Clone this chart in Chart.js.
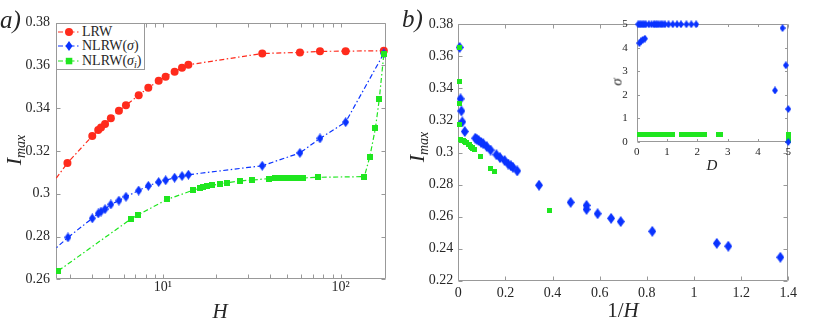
<!DOCTYPE html>
<html>
<head>
<meta charset="utf-8">
<script src="https://cdn.jsdelivr.net/npm/chart.js@4.4.1/dist/chart.umd.min.js"></script>
<style>
  html, body { margin: 0; padding: 0; background: #fff; }
  #wrap { position: relative; width: 830px; height: 320px; overflow: hidden;
          font-family: "Liberation Serif", serif; color: #262626; }
  canvas { position: absolute; top: 0; }
  .t { position: absolute; white-space: nowrap; line-height: 1; }
  .c { transform: translate(-50%, -50%); }
  .r { transform: translate(-50%, -50%) rotate(-90deg); }
  .im { font-size: 22px; font-style: italic; }
  .im sub { font-size: 14px; vertical-align: -4px; line-height: 0; }
  #legend { position: absolute; left: 56px; top: 22.7px; width: 89px; height: 47px;
            box-sizing: border-box; border: 1px solid #999; background: #fff; }
  #legend .row { position: absolute; left: 1px; height: 14px; font-size: 14px; }
  #legend svg { position: absolute; left: 0; top: 2px; }
  #legend span { position: absolute; left: 24px; top: 0; white-space: nowrap; line-height: 14px; }
  #legend sub { font-size: 10px; vertical-align: -3px; line-height: 0; }
</style>
</head>
<body>
<div id="wrap">
  <canvas id="ca" width="400" height="320" style="left:0"></canvas>
  <canvas id="cb" width="430" height="320" style="left:400px"></canvas>
  <canvas id="ci" width="200" height="180" style="left:600px"></canvas>

  <div id="legend">
    <div class="row" style="top:1px">
      <svg width="21" height="10"><line x1="0" y1="5" x2="21" y2="5" stroke="#ff2b1c" stroke-width="1.2" stroke-dasharray="5 2.5 1.5 2.5"/><circle cx="11" cy="5" r="4" fill="#ff2b1c"/></svg>
      <span>LRW</span>
    </div>
    <div class="row" style="top:15.5px">
      <svg width="21" height="10"><line x1="0" y1="5" x2="21" y2="5" stroke="#0a33ff" stroke-width="1.2" stroke-dasharray="5 2.5 1.5 2.5"/><polygon points="11,0 14.5,5 11,10 7.5,5" fill="#0a33ff"/></svg>
      <span>NLRW(<i>σ</i>)</span>
    </div>
    <div class="row" style="top:30.5px">
      <svg width="21" height="10"><line x1="0" y1="5" x2="21" y2="5" stroke="#1fe61f" stroke-width="1.2" stroke-dasharray="5 2.5 1.5 2.5"/><rect x="7.8" y="1.8" width="6.5" height="6.5" fill="#1fe61f"/></svg>
      <span>NLRW(<i>σ<sub>i</sub></i>)</span>
    </div>
  </div>

  <div class="t" style="left:0px;top:7px;font-size:25px;font-style:italic">a)</div>
  <div class="t" style="left:402px;top:6px;font-size:25px;font-style:italic">b)</div>
  <div class="t c" style="left:220px;top:311px;font-size:21px;font-style:italic">H</div>
  <div class="t r im" style="left:14px;top:150px">I<sub>max</sub></div>
  <div class="t c" style="left:623px;top:310px;font-size:21px">1/<i>H</i></div>
  <div class="t r im" style="left:417px;top:147px">I<sub>max</sub></div>
  <div class="t c" style="left:712px;top:165px;font-size:15px;font-style:italic">D</div>
  <div class="t r" style="left:617px;top:82px;font-size:15px;font-style:italic">σ</div>
</div>

<script>
// ---- panel a / b : I_max against H (panel b plots the same runs against 1/H) ----
const hRed = [2.10, 2.90, 4.00, 4.32, 4.48, 4.72, 5.09, 5.65, 6.19, 7.30, 8.27, 9.46,
              10.35, 11.63, 12.8, 13.9, 36.2, 59, 76.5, 106.7, 175];
const iRed = [0.2987, 0.3144, 0.3270, 0.3298, 0.3310, 0.3326, 0.3353, 0.3388, 0.3414, 0.3461, 0.3496, 0.3528,
              0.3547, 0.3571, 0.3589, 0.3603, 0.3656, 0.3661, 0.3666, 0.3667, 0.3669];

const hBlue = [0.732, 0.873, 0.912, 1.215, 1.451, 1.543, 1.692, 1.838, 1.838, 2.098,
               2.92, 4.00, 4.32, 4.48, 4.72, 5.09, 5.65, 6.19, 7.30, 8.27, 9.46,
               10.35, 11.63, 12.8, 13.9, 36.2, 59, 76.5, 106.7, 175];
const iBlue = [0.2346, 0.2415, 0.2433, 0.2508, 0.2569, 0.2589, 0.2618, 0.2645, 0.2670, 0.2689,
               0.2796, 0.2885, 0.2908, 0.2917, 0.2928, 0.2950, 0.2968, 0.2986, 0.3015, 0.3037, 0.3055,
               0.3063, 0.3075, 0.3083, 0.3089, 0.3131, 0.3191, 0.3259, 0.3335, 0.3656];

const hGreen = [2.58, 6.6, 7.26, 10.6, 14.7, 16.2, 16.9, 17.6, 18.9, 20.9, 23.0, 27.1, 31.5,
                39.7, 42.7, 45.5, 48.5, 51.5, 54.5, 58, 61, 74.3, 136, 146, 157, 165, 175];
const iGreen = [0.2640, 0.2882, 0.2902, 0.2974, 0.3016, 0.3025, 0.3030, 0.3034, 0.3039, 0.3047, 0.3052, 0.3060, 0.3064,
                0.3071, 0.3072, 0.3072, 0.3072, 0.3073, 0.3073, 0.3073, 0.3074, 0.3077, 0.3080, 0.3174, 0.3307, 0.3443, 0.3653];

// ---- inset : sigma against D ----
const dBlue = [0.09, 0.14, 0.20, 0.27,
               0.05, 0.10, 0.15, 0.20, 0.25, 0.30, 0.40, 0.49, 0.57, 0.62, 0.67, 0.73, 0.80, 0.86, 0.93,
               1.05, 1.19, 1.33, 1.46, 1.64, 1.80, 1.96,
               4.56, 4.81, 4.92, 5.00, 5.00];
const sBlue = [4.20, 4.28, 4.34, 4.39,
               5, 5, 5, 5, 5, 5, 5, 5, 5, 5, 5, 5, 5, 5, 5,
               5, 5, 5, 5, 5, 5, 5,
               2.19, 4.84, 3.26, 1.40, 0.0];
const dGreen = [0.08, 0.16, 0.24, 0.32, 0.40, 0.48, 0.56, 0.64, 0.72, 0.80, 0.88, 0.96, 1.04, 1.12, 1.18,
                1.48, 1.56, 1.64, 1.72, 1.80, 1.88, 1.96, 2.04, 2.12, 2.20, 2.24,
                2.71, 2.76,
                5, 5, 5, 5, 5];
const sGreen = [0.33, 0.33, 0.33, 0.33, 0.33, 0.33, 0.33, 0.33, 0.33, 0.33, 0.33, 0.33, 0.33, 0.33, 0.33,
                0.33, 0.33, 0.33, 0.33, 0.33, 0.33, 0.33, 0.33, 0.33, 0.33, 0.33,
                0.33, 0.33,
                0.07, 0.13, 0.20, 0.26, 0.33];

// ---- ticks ----
const xTicksA = [10, 100];
const xTickLabelsA = ['10¹', '10²'];
const xMinorA = [3, 4, 5, 6, 7, 8, 9, 20, 30, 40, 50, 60, 70, 80, 90];
const yTicksA = [0.26, 0.28, 0.30, 0.32, 0.34, 0.36, 0.38];
const yTickLabelsA = ['0.26', '0.28', '0.3', '0.32', '0.34', '0.36', '0.38'];
const xTicksB = [0, 0.2, 0.4, 0.6, 0.8, 1.0, 1.2, 1.4];
const xTickLabelsB = ['0', '0.2', '0.4', '0.6', '0.8', '1', '1.2', '1.4'];
const yTicksB = [0.22, 0.24, 0.26, 0.28, 0.30, 0.32, 0.34, 0.36, 0.38];
const yTickLabelsB = ['0.22', '0.24', '0.26', '0.28', '0.3', '0.32', '0.34', '0.36', '0.38'];
const insetTicks = [0, 1, 2, 3, 4, 5];
const insetTickLabels = ['0', '1', '2', '3', '4', '5'];

const RED = '#ff2b1c', BLUE = '#0a33ff', GREEN = '#1fe61f';
const DASH = [5, 2.5, 1.5, 2.5];
const SERIF = '"Liberation Serif", serif';

Chart.defaults.font.family = SERIF;
Chart.defaults.color = '#262626';

function marker(shape, w, h, color) {
  const c = document.createElement('canvas');
  c.width = w; c.height = h;
  const g = c.getContext('2d');
  g.fillStyle = color;
  g.beginPath();
  if (shape === 'diamond') {
    g.moveTo(w / 2, 0); g.lineTo(w, h / 2); g.lineTo(w / 2, h); g.lineTo(0, h / 2);
  } else {
    g.rect(0, 0, w, h);
  }
  g.closePath();
  g.fill();
  return c;
}

const pts = (xs, ys) => xs.map((x, i) => ({ x, y: ys[i] }));
const inv = xs => xs.map(h => 1 / h);

// box round the plot area with MATLAB-style inward tick marks
const framePlugin = {
  id: 'frame',
  beforeDatasetsDraw(chart, args, o) {
    const { ctx, chartArea: a } = chart;
    const xs = chart.scales.x, ys = chart.scales.y;
    const L = Math.round(a.left) + 0.5, R = Math.round(a.right) - 0.5;
    const T = Math.round(a.top) + 0.5, B = Math.round(a.bottom) - 0.5;
    ctx.save();
    if (o.fill) { ctx.fillStyle = '#fff'; ctx.fillRect(a.left, a.top, a.width, a.height); }
    ctx.strokeStyle = o.color || '#999';
    ctx.lineWidth = 1;
    ctx.beginPath();
    ctx.rect(L, T, R - L, B - T);
    const len = o.len || 4;
    const xv = xs.ticks.map(t => t.value).concat(o.xMinor || []);
    xv.forEach(v => {
      const p = Math.round(xs.getPixelForValue(v)) + 0.5;
      ctx.moveTo(p, B); ctx.lineTo(p, B - len);
      ctx.moveTo(p, T); ctx.lineTo(p, T + len);
    });
    ys.ticks.forEach(t => {
      const p = Math.round(ys.getPixelForValue(t.value)) + 0.5;
      ctx.moveTo(L, p); ctx.lineTo(L + len, p);
      ctx.moveTo(R, p); ctx.lineTo(R - len, p);
    });
    ctx.stroke();
    ctx.restore();
  }
};

function axis(opts, values, labels, size, pad, fit) {
  return Object.assign({
    afterBuildTicks: s => { s.ticks = values.map(v => ({ value: v })); },
    afterFit: fit,
    grid: { display: false, drawTicks: false, tickLength: 0 },
    border: { display: false },
    ticks: { autoSkip: false, maxRotation: 0, padding: pad, font: { size, family: SERIF },
             callback: (v, i) => labels[i] }
  }, opts);
}

const common = {
  responsive: false,
  animation: false,
  events: [],
  plugins: { legend: { display: false }, tooltip: { enabled: false } }
};

// ---- panel a ----
const clipA = { left: 0, top: false, right: false, bottom: false };
new Chart(document.getElementById('ca'), {
  type: 'scatter',
  data: {
    datasets: [
      { label: 'LRW', data: pts(hRed, iRed), showLine: true, borderColor: RED, borderWidth: 1.2,
        borderDash: DASH, pointStyle: 'circle', pointRadius: 4, pointBackgroundColor: RED,
        pointBorderWidth: 0, order: 3, clip: clipA },
      { label: 'NLRW(σ)', data: pts(hBlue, iBlue), showLine: true, borderColor: BLUE, borderWidth: 1.2,
        borderDash: DASH, pointStyle: marker('diamond', 7, 10, BLUE), order: 2, clip: clipA },
      { label: 'NLRW(σi)', data: pts(hGreen, iGreen), showLine: true, borderColor: GREEN, borderWidth: 1.2,
        borderDash: DASH, pointStyle: marker('square', 6.5, 6.5, GREEN), order: 1, clip: clipA },
    ],
  },
  options: Object.assign({}, common, {
    layout: { padding: { left: 0, top: 22.7, right: 14, bottom: 0 }, autoPadding: false },
    plugins: Object.assign({}, common.plugins, { frame: { color: '#999', len: 4, xMinor: xMinorA } }),
    scales: {
      x: axis({ type: 'logarithmic', min: 2.5, max: 180 }, xTicksA, xTickLabelsA, 14, 0, s => { s.height = 40.7; }),
      y: axis({ type: 'linear', min: 0.26, max: 0.38 }, yTicksA, yTickLabelsA, 14, 6, s => { s.width = 56; }),
    },
  }),
  plugins: [framePlugin],
});

// ---- panel b ----
new Chart(document.getElementById('cb'), {
  type: 'scatter',
  data: {
    datasets: [
      { label: 'NLRW(σ)', data: pts(inv(hBlue), iBlue), pointStyle: marker('diamond', 8, 11, BLUE),
        order: 2, clip: false },
      { label: 'NLRW(σi)', data: pts(inv(hGreen), iGreen), pointStyle: marker('square', 5.5, 5.5, GREEN),
        order: 1, clip: false },
    ],
  },
  options: Object.assign({}, common, {
    layout: { padding: { left: 0, top: 24.3, right: 41.7, bottom: 0 }, autoPadding: false },
    plugins: Object.assign({}, common.plugins, { frame: { color: '#999', len: 4 } }),
    scales: {
      x: axis({ type: 'linear', min: 0, max: 1.4 }, xTicksB, xTickLabelsB, 14, 4.5, s => { s.height = 39.3; }),
      y: axis({ type: 'linear', min: 0.22, max: 0.38 }, yTicksB, yTickLabelsB, 14, 5, s => { s.width = 58.3; }),
    },
  }),
  plugins: [framePlugin],
});

// ---- inset ----
new Chart(document.getElementById('ci'), {
  type: 'scatter',
  data: {
    datasets: [
      { label: 'σ', data: pts(dBlue, sBlue), pointStyle: marker('diamond', 6, 8, BLUE), order: 1, clip: false },
      { label: 'σi', data: pts(dGreen, sGreen), pointStyle: marker('square', 5, 5, GREEN), order: 2, clip: false },
    ],
  },
  options: Object.assign({}, common, {
    layout: { padding: { left: 0, top: 24.3, right: 11.7, bottom: 0 }, autoPadding: false },
    plugins: Object.assign({}, common.plugins, { frame: { color: '#999', len: 2.5, fill: true } }),
    scales: {
      x: axis({ type: 'linear', min: 0, max: 5 }, insetTicks, insetTickLabels, 11, 3.5, s => { s.height = 38; }),
      y: axis({ type: 'linear', min: 0, max: 5 }, insetTicks, insetTickLabels, 11, 9, s => { s.width = 36.7; }),
    },
  }),
  plugins: [framePlugin],
});
</script>
</body>
</html>
